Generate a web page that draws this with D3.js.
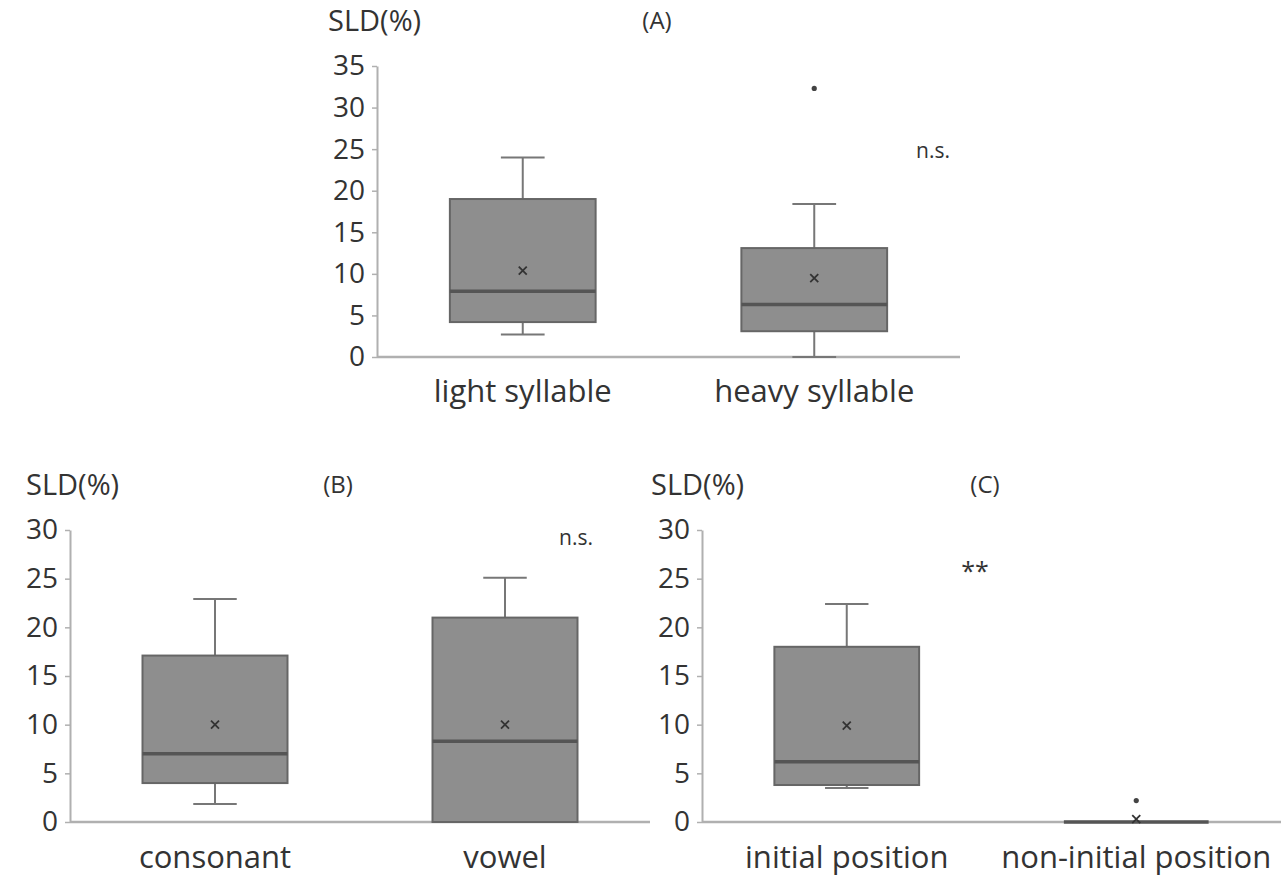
<!DOCTYPE html>
<html>
<head>
<meta charset="utf-8">
<script src="https://cdn.jsdelivr.net/npm/d3@7"></script>
<style>
  body { margin: 0; background: #fff; }
  svg text { font-family: "Open Sans", sans-serif; fill: #333; }
</style>
</head>
<body>
<svg id="chart" width="1281" height="876"></svg>
<script>
// --- data ---
const catsA = ["light syllable", "heavy syllable"];
const catsB = ["consonant", "vowel"];
const catsC = ["initial position", "non-initial position"];

// [whisker low, Q1, median, Q3, whisker high]
const boxA = [[2.7, 4.2, 7.9, 19.0, 24.0], [0, 3.1, 6.3, 13.1, 18.4]];
const boxB = [[1.85, 4.0, 7.0, 17.1, 22.9], [0, 0, 8.3, 21.0, 25.1]];
const boxC = [[3.5, 3.8, 6.2, 18.0, 22.4], [0, 0, 0, 0, 0]];

const meanA = [10.4, 9.5];
const meanB = [10.0, 10.0];
const meanC = [9.9, 0.3];

const outA = [[], [32.3]];
const outB = [[], []];
const outC = [[], [2.2]];

const ticksA = [0, 5, 10, 15, 20, 25, 30, 35];
const ticksBC = [0, 5, 10, 15, 20, 25, 30];

const svg = d3.select("#chart");

function drawPanel(p) {
  const g = svg.append("g");
  const y = d3.scaleLinear().domain([0, p.max]).range([p.y0, p.y1]);
  const x = d3.scaleBand().domain(p.cats).range([p.x0, p.x1])
    .paddingInner(0.5).paddingOuter(0.25);
  const bw = x.bandwidth();

  // x baseline
  g.append("line")
    .attr("x1", p.x0).attr("x2", p.xEnd)
    .attr("y1", y(0)).attr("y2", y(0))
    .attr("stroke", "#b0b0b0").attr("stroke-width", 2.5);

  // y axis
  const ax = g.append("g").attr("transform", `translate(${p.x0},0)`)
    .call(d3.axisLeft(y).tickValues(p.ticks).tickSize(5).tickSizeOuter(0).tickPadding(7));
  ax.select(".domain").attr("stroke", "#b0b0b0").attr("stroke-width", 2);
  ax.selectAll(".tick line").attr("stroke", "#b0b0b0").attr("stroke-width", 1.5);
  ax.selectAll(".tick text").attr("font-size", 28).attr("fill", "#333")
    .attr("font-family", "Open Sans");

  p.cats.forEach((c, i) => {
    const [lo, q1, md, q3, hi] = p.box[i];
    const cx = x(c) + bw / 2;
    const cap = bw * 0.3;
    const wg = g.append("g").attr("stroke", "#777").attr("stroke-width", 2);
    if (hi > q3) {
      wg.append("line").attr("x1", cx).attr("x2", cx).attr("y1", y(q3)).attr("y2", y(hi));
      wg.append("line").attr("x1", cx - cap / 2).attr("x2", cx + cap / 2).attr("y1", y(hi)).attr("y2", y(hi));
    }
    if (lo < q1) {
      wg.append("line").attr("x1", cx).attr("x2", cx).attr("y1", y(q1)).attr("y2", y(lo));
      wg.append("line").attr("x1", cx - cap / 2).attr("x2", cx + cap / 2).attr("y1", y(lo)).attr("y2", y(lo));
    }
    if (q3 > q1) {
      g.append("rect")
        .attr("x", x(c)).attr("width", bw)
        .attr("y", y(q3)).attr("height", y(q1) - y(q3))
        .attr("fill", "#8e8e8e").attr("stroke", "#666").attr("stroke-width", 2);
    }
    g.append("line")
      .attr("x1", x(c)).attr("x2", x(c) + bw)
      .attr("y1", y(md)).attr("y2", y(md))
      .attr("stroke", "#555").attr("stroke-width", 3.5);

    // mean marker
    const my = y(p.mean[i]), s = 4;
    g.append("path")
      .attr("d", `M${cx - s},${my - s}L${cx + s},${my + s}M${cx - s},${my + s}L${cx + s},${my - s}`)
      .attr("stroke", "#333").attr("stroke-width", 1.8);

    p.out[i].forEach(v => {
      g.append("circle").attr("cx", cx).attr("cy", y(v)).attr("r", 2.6).attr("fill", "#444");
    });

    g.append("text").attr("x", cx).attr("y", p.labelY)
      .attr("text-anchor", "middle").attr("font-size", 31).text(c);
  });

  g.append("text").attr("x", p.unitX).attr("y", p.y1 - 35)
    .attr("font-size", 29).text("SLD(%)");
  g.append("text").attr("x", p.titleX).attr("y", p.y1 - 37)
    .attr("text-anchor", "middle").attr("font-size", 24).text(p.title);
  g.append("text").attr("x", p.sig[0]).attr("y", y(p.sig[1]))
    .attr("text-anchor", "middle").attr("dominant-baseline", "middle")
    .attr("font-size", p.sigSize).text(p.sigText);
}

drawPanel({
  cats: catsA, box: boxA, mean: meanA, out: outA, ticks: ticksA, max: 35,
  x0: 377, x1: 960, xEnd: 960, y0: 357, y1: 66, labelY: 402, unitX: 328,
  title: "(A)", titleX: 657, sig: [933, 24.6], sigText: "n.s.", sigSize: 21
});
drawPanel({
  cats: catsB, box: boxB, mean: meanB, out: outB, ticks: ticksBC, max: 30,
  x0: 70, x1: 650, xEnd: 650, y0: 822, y1: 530, labelY: 868, unitX: 26,
  title: "(B)", titleX: 338, sig: [576, 29.0], sigText: "n.s.", sigSize: 21
});
drawPanel({
  cats: catsC, box: boxC, mean: meanC, out: outC, ticks: ticksBC, max: 30,
  x0: 702, x1: 1281, xEnd: 1281, y0: 822, y1: 530, labelY: 868, unitX: 651,
  title: "(C)", titleX: 985, sig: [975, 25.6], sigText: "**", sigSize: 25
});
</script>
</body>
</html>
